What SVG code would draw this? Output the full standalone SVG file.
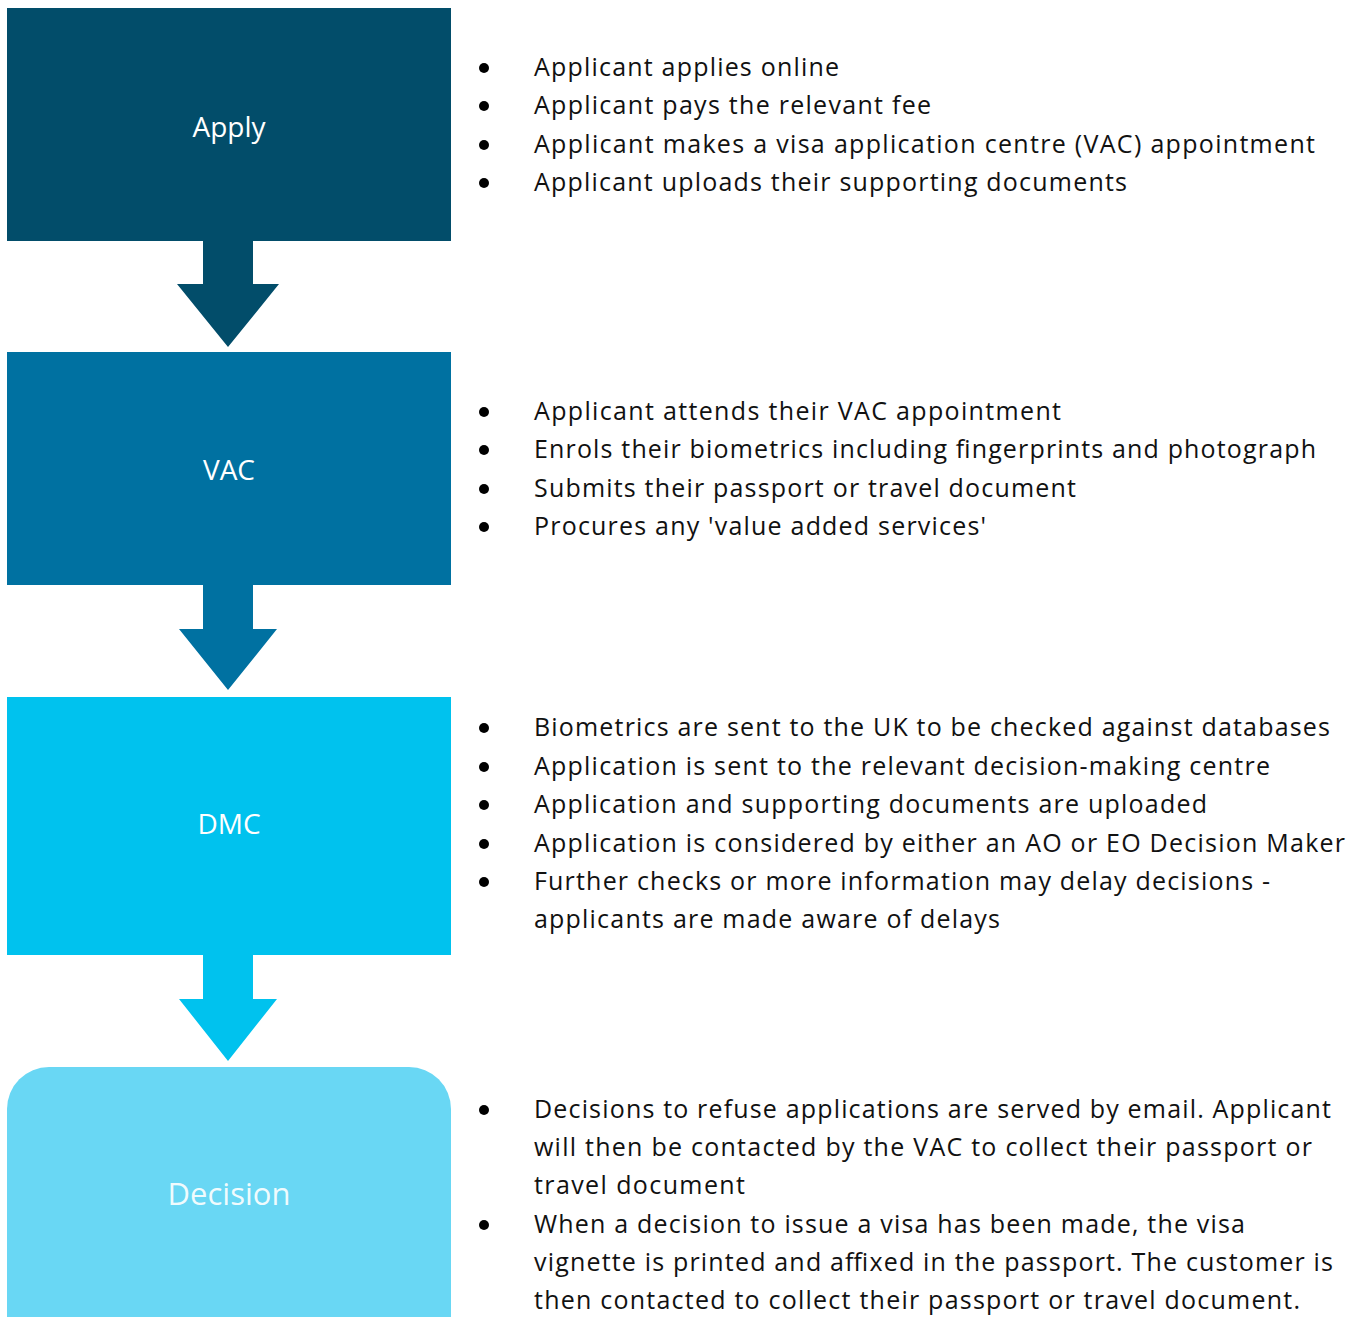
<svg xmlns="http://www.w3.org/2000/svg" width="1362" height="1317" viewBox="0 0 1362 1317">
<style>
.lbl{font-family:"Open Sans","Liberation Sans",sans-serif;fill:#ffffff;text-anchor:middle}
.t{font-family:"Open Sans","Liberation Sans",sans-serif;font-size:25px;fill:#111111}
.b{fill:#000000}
</style>
<rect width="1362" height="1317" fill="#ffffff"/>
<g id="connectors">
<polygon points="203,240 253,240 253,284 279,284 228,347 177,284 203,284" fill="#024d6a"/>
<polygon points="203,584 253,584 253,629 277,629 228,690 179,629 203,629" fill="#0071a1"/>
<polygon points="203,954 253,954 253,999 277,999 228,1061 179,999 203,999" fill="#00c2ee"/>
</g>
<g id="node-apply">
<rect x="7" y="8" width="444" height="233" fill="#024d6a"/>
<text class="lbl" x="229" y="137" font-size="28">Apply</text>
</g>
<g id="node-vac">
<rect x="7" y="352" width="444" height="233" fill="#0071a1"/>
<text class="lbl" x="229" y="480" font-size="28">VAC</text>
</g>
<g id="node-dmc">
<rect x="7" y="697" width="444" height="258" fill="#00c2ee"/>
<text class="lbl" x="229" y="834" font-size="28">DMC</text>
</g>
<g id="node-decision">
<path d="M7,1317 V1109 A42,42 0 0 1 49,1067 H409 A42,42 0 0 1 451,1109 V1317 Z" fill="#69d7f4"/>
<text class="lbl" x="229" y="1205" font-size="31" fill-opacity="0.92">Decision</text>
</g>
<g id="text-apply">
<circle class="b" cx="484" cy="68" r="5"/>
<circle class="b" cx="484" cy="106" r="5"/>
<circle class="b" cx="484" cy="145" r="5"/>
<circle class="b" cx="484" cy="183" r="5"/>
<text class="t" x="534" y="76" textLength="305">Applicant applies online</text>
<text class="t" x="534" y="114" textLength="397">Applicant pays the relevant fee</text>
<text class="t" x="534" y="153" textLength="781">Applicant makes a visa application centre (VAC) appointment</text>
<text class="t" x="534" y="191" textLength="593">Applicant uploads their supporting documents</text>
</g>
<g id="text-vac">
<circle class="b" cx="484" cy="412" r="5"/>
<circle class="b" cx="484" cy="450" r="5"/>
<circle class="b" cx="484" cy="489" r="5"/>
<circle class="b" cx="484" cy="527" r="5"/>
<text class="t" x="534" y="420" textLength="527">Applicant attends their VAC appointment</text>
<text class="t" x="534" y="458" textLength="782">Enrols their biometrics including fingerprints and photograph</text>
<text class="t" x="534" y="497" textLength="542">Submits their passport or travel document</text>
<text class="t" x="534" y="535" textLength="452">Procures any 'value added services'</text>
</g>
<g id="text-dmc">
<circle class="b" cx="484" cy="728" r="5"/>
<circle class="b" cx="484" cy="767" r="5"/>
<circle class="b" cx="484" cy="805" r="5"/>
<circle class="b" cx="484" cy="844" r="5"/>
<circle class="b" cx="484" cy="882" r="5"/>
<text class="t" x="534" y="736" textLength="796">Biometrics are sent to the UK to be checked against databases</text>
<text class="t" x="534" y="775" textLength="736">Application is sent to the relevant decision-making centre</text>
<text class="t" x="534" y="813" textLength="673">Application and supporting documents are uploaded</text>
<text class="t" x="534" y="852" textLength="811">Application is considered by either an AO or EO Decision Maker</text>
<text class="t" x="534" y="890" textLength="736">Further checks or more information may delay decisions -</text>
<text class="t" x="534" y="928" textLength="466">applicants are made aware of delays</text>
</g>
<g id="text-decision">
<circle class="b" cx="484" cy="1110" r="5"/>
<circle class="b" cx="484" cy="1225" r="5"/>
<text class="t" x="534" y="1118" textLength="797">Decisions to refuse applications are served by email. Applicant</text>
<text class="t" x="534" y="1156" textLength="778">will then be contacted by the VAC to collect their passport or</text>
<text class="t" x="534" y="1194" textLength="211">travel document</text>
<text class="t" x="534" y="1233" textLength="711">When a decision to issue a visa has been made, the visa</text>
<text class="t" x="534" y="1271" textLength="799">vignette is printed and affixed in the passport. The customer is</text>
<text class="t" x="534" y="1309" textLength="766">then contacted to collect their passport or travel document.</text>
</g>
</svg>
